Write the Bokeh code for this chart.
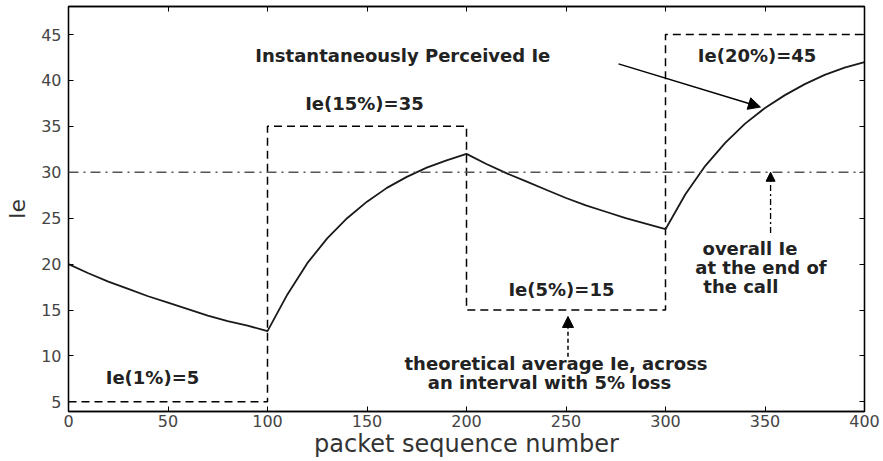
from bokeh.plotting import figure
from bokeh.models import Range1d, LinearAxis, FixedTicker, Span, Arrow, NormalHead
from bokeh.core.properties import value
from bokeh.embed import file_html
from bokeh.resources import INLINE

# packet sequence numbers and the instantaneously perceived Ie along the call
pkt = [0, 10, 20, 30, 40, 50, 60, 70, 80, 90,
       100, 110, 120, 130, 140, 150, 160, 170, 180, 190,
       200, 210, 220, 230, 240, 250, 260, 270, 280, 290,
       300, 310, 320, 330, 340, 350, 360, 370, 380, 390, 400]
ie_perceived = [20.0, 19.0, 18.1, 17.3, 16.5, 15.8, 15.1, 14.4, 13.8, 13.3,
                12.7, 16.7, 20.1, 22.8, 25.0, 26.8, 28.3, 29.5, 30.5, 31.3,
                32.0, 30.9, 29.9, 29.0, 28.1, 27.2, 26.4, 25.7, 25.0, 24.4,
                23.8, 27.6, 30.7, 33.2, 35.3, 37.0, 38.4, 39.6, 40.6, 41.4, 42.0]

# theoretical Ie of each loss interval (step boundaries and levels)
interval_edges = [0, 100, 200, 300, 400]
interval_ie = [5, 35, 15, 45, 45]

# overall Ie at the end of the call
overall_ie = 30

x_ticks = [0, 50, 100, 150, 200, 250, 300, 350, 400]
y_ticks = [5, 10, 15, 20, 25, 30, 35, 40, 45]

p = figure(width=883, height=461,
           x_range=Range1d(0, 400), y_range=Range1d(3.95, 48.05),
           output_backend="svg", toolbar_location=None,
           min_border_left=68, min_border_right=19,
           min_border_top=6, min_border_bottom=50)
p.grid.visible = False
p.outline_line_color = "black"
p.outline_line_width = 1.3
p.background_fill_color = "white"
p.border_fill_color = "white"

x_bottom = p.below[0]
y_left = p.left[0]
x_bottom.ticker = FixedTicker(ticks=x_ticks)
y_left.ticker = FixedTicker(ticks=y_ticks)

x_top = LinearAxis(ticker=FixedTicker(ticks=x_ticks))
y_right = LinearAxis(ticker=FixedTicker(ticks=y_ticks))
p.add_layout(x_top, "above")
p.add_layout(y_right, "right")

for ax in (x_bottom, y_left, x_top, y_right):
    ax.major_tick_in = 5
    ax.major_tick_out = 0
    ax.minor_tick_in = 0
    ax.minor_tick_out = 0
    ax.axis_line_color = "black"
    ax.axis_line_width = 1.3
    ax.major_tick_line_color = "black"
    ax.major_label_text_font = "DejaVu Sans"
    ax.major_label_text_font_size = "16px"
    ax.major_label_text_color = "#444444"

# mirrored axes carry ticks only
for ax in (x_top, y_right):
    ax.major_label_text_font_size = "0px"
    ax.major_label_standoff = 0
    ax.major_label_text_alpha = 0

x_bottom.major_label_standoff = 3
y_left.major_label_standoff = 7

x_bottom.axis_label = "packet sequence number"
x_bottom.axis_label_text_font = "DejaVu Sans"
x_bottom.axis_label_text_font_style = "normal"
x_bottom.axis_label_text_font_size = "24px"
x_bottom.axis_label_text_color = "#333333"
x_bottom.axis_label_standoff = 0

y_left.axis_label = "Ie"
y_left.axis_label_text_font = "DejaVu Sans"
y_left.axis_label_text_font_style = "normal"
y_left.axis_label_text_font_size = "22px"
y_left.axis_label_text_color = "#333333"
y_left.axis_label_standoff = 8

# overall Ie level (dash-dot)
p.add_layout(Span(location=overall_ie, dimension="width", line_color="#555555",
                  line_width=1.3, line_dash="10 5 2 5"))

# theoretical Ie per interval (dashed steps)
p.step(interval_edges, interval_ie, mode="after", line_color="black",
       line_width=1.5, line_dash="8 5")

# instantaneously perceived Ie
p.line(pkt, ie_perceived, line_color="#1a1a1a", line_width=1.8)

label_font = value("DejaVu Sans")
common = dict(text_font=label_font, text_font_style="bold", text_font_size="18px",
              text_color="#222222", text_baseline="middle")

p.text(x=[168, 148.7, 346, 247.7, 42.2, 245, 241.7],
       y=[42.7, 37.5, 42.7, 17.2, 7.6, 9.2, 7.1],
       text=["Instantaneously Perceived Ie", "Ie(15%)=35", "Ie(20%)=45",
             "Ie(5%)=15", "Ie(1%)=5",
             "theoretical average Ie, across", "an interval with 5% loss"],
       text_align="center", **common)

p.text(x=[318.6, 315.0, 319.0],
       y=[21.7, 19.6, 17.6],
       text=["overall Ie", "at the end of", "the call"],
       text_align="left", **common)

# pointer to the perceived curve
p.add_layout(Arrow(end=NormalHead(size=12, fill_color="black", line_color="black"),
                   x_start=276.4, y_start=41.8, x_end=347.7, y_end=37.1,
                   line_color="black", line_width=1.5))

# pointer to the 5% interval level
p.add_layout(Arrow(end=NormalHead(size=11, fill_color="black", line_color="black"),
                   x_start=251, y_start=9.9, x_end=251, y_end=14.3,
                   line_color="black", line_width=1.5, line_dash="4 3"))

# pointer to the overall level
p.add_layout(Arrow(end=NormalHead(size=9, fill_color="black", line_color="black"),
                   x_start=352.8, y_start=23.4, x_end=352.8, y_end=30,
                   line_color="black", line_width=1.3, line_dash="6 3 2 3"))

open("out.html", "w").write(file_html(p, INLINE))
